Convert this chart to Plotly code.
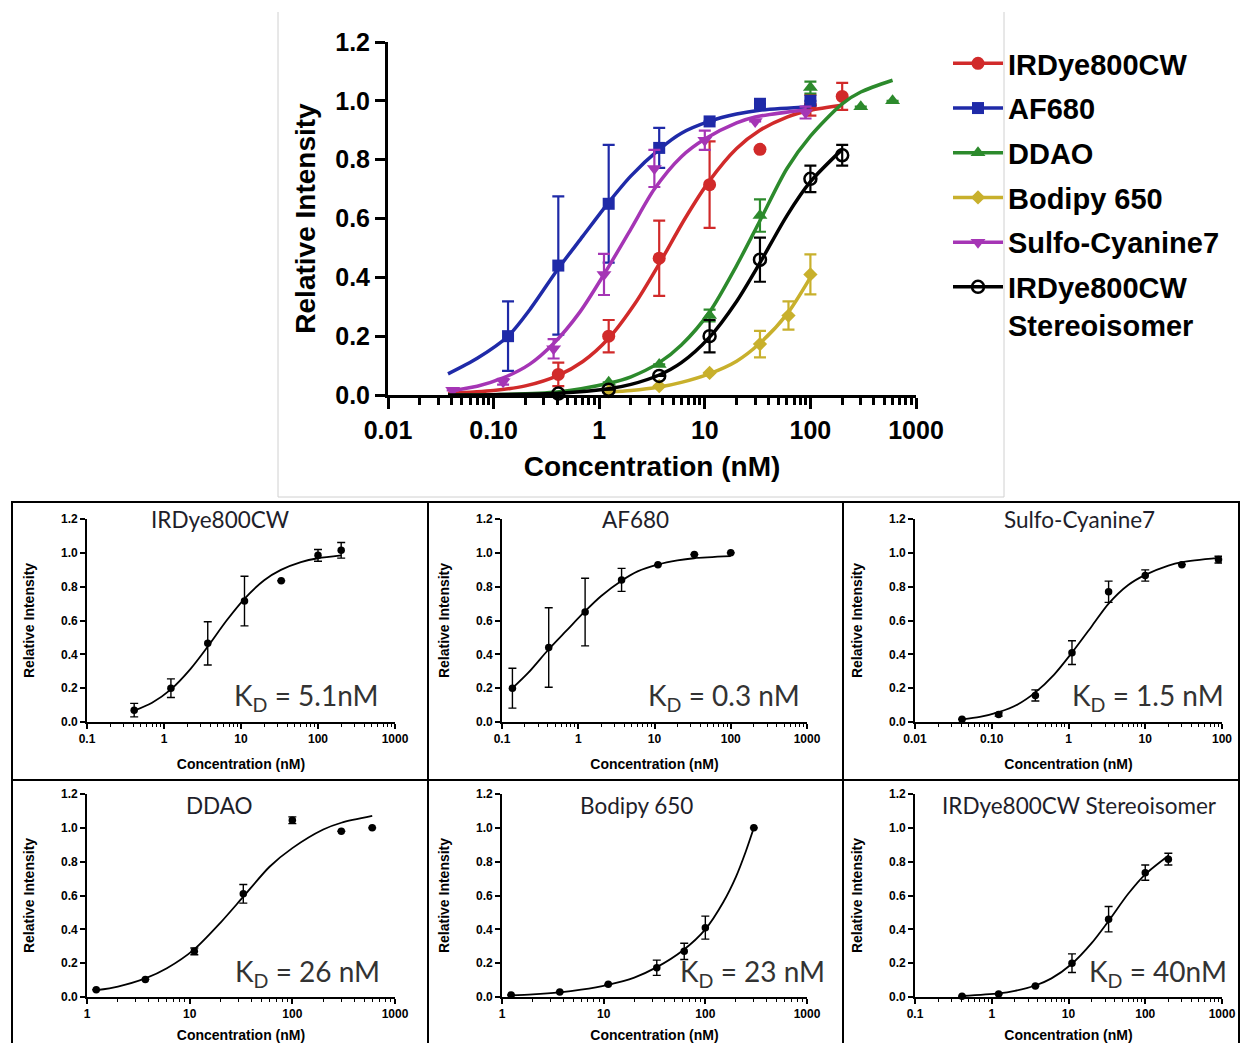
import plotly.graph_objects as go

# ---------------- data ----------------
dye_names = ["IRDye800CW", "AF680", "DDAO", "Bodipy 650", "Sulfo-Cyanine7", "IRDye800CW Stereoisomer"]
legend_labels = ["IRDye800CW", "AF680", "DDAO", "Bodipy 650", "Sulfo-Cyanine7", "IRDye800CW<br>Stereoisomer"]
kd_labels = ["K<sub>D</sub> = 5.1nM", "K<sub>D</sub> = 0.3 nM", "K<sub>D</sub> = 26 nM",
             "K<sub>D</sub> = 23 nM", "K<sub>D</sub> = 1.5 nM", "K<sub>D</sub> = 40nM"]

ird_conc = [0.41, 1.23, 3.7, 11.1, 33.3, 100, 200]
ird_val = [0.07, 0.20, 0.465, 0.715, 0.835, 0.985, 1.015]
ird_err = [0.04, 0.055, 0.128, 0.147, None, 0.035, 0.046]
ird_fit_x = [0.037, 0.1, 0.2, 0.41, 0.7, 1.23, 2.2, 3.7, 6.5, 11, 20, 33, 60, 100, 200]
ird_fit_y = [0.005, 0.015, 0.031, 0.067, 0.114, 0.193, 0.313, 0.446, 0.60, 0.727, 0.838, 0.899, 0.945, 0.968, 0.985]

af_conc = [0.137, 0.41, 1.23, 3.7, 11.1, 33.3, 100]
af_val = [0.20, 0.44, 0.65, 0.84, 0.93, 0.99, 1.0]
af_err = [0.118, 0.235, 0.20, 0.068, None, None, None]
af_fit_x = [0.037, 0.07, 0.137, 0.22, 0.41, 0.7, 1.23, 2, 3.7, 6, 11, 20, 33, 100]
af_fit_y = [0.072, 0.125, 0.20, 0.29, 0.43, 0.54, 0.655, 0.745, 0.835, 0.89, 0.93, 0.955, 0.968, 0.98]

ddao_conc = [1.23, 3.7, 11.1, 33.3, 100, 300, 600]
ddao_val = [0.043, 0.104, 0.27, 0.61, 1.045, 0.98, 1.0]
ddao_err = [None, None, 0.02, 0.055, 0.02, None, None]
ddao_fit_x = [0.037, 0.12, 0.4, 1.23, 2, 3.7, 6, 11, 20, 33, 60, 100, 200, 300, 600]
ddao_fit_y = [0.0, 0.002, 0.01, 0.04, 0.062, 0.11, 0.17, 0.28, 0.44, 0.59, 0.77, 0.88, 0.99, 1.03, 1.07]

bod_conc = [1.23, 3.7, 11.1, 33.3, 62, 100, 300]
bod_val = [0.012, 0.03, 0.075, 0.173, 0.27, 0.41, 1.0]
bod_err = [None, None, None, 0.045, 0.048, 0.068, None]
bod_fit_x = [1.23, 2, 3.7, 6, 11, 20, 33, 60, 100, 150, 200, 250, 300]
bod_fit_y = [0.01, 0.015, 0.027, 0.043, 0.072, 0.115, 0.175, 0.275, 0.40, 0.56, 0.71, 0.86, 1.0]
bod_main_max = 100  # the overview chart shows Bodipy up to 100 nM only

sul_conc = [0.041, 0.123, 0.37, 1.11, 3.33, 10, 30, 90]
sul_val = [0.016, 0.045, 0.157, 0.41, 0.77, 0.866, 0.93, 0.96]
sul_err = [None, 0.01, 0.033, 0.07, 0.063, 0.033, None, 0.02]
sul_fit_x = [0.041, 0.07, 0.123, 0.22, 0.37, 0.65, 1.11, 2, 3.33, 6, 10, 20, 30, 90]
sul_fit_y = [0.016, 0.03, 0.058, 0.105, 0.175, 0.28, 0.41, 0.565, 0.70, 0.81, 0.87, 0.925, 0.945, 0.97]

ste_conc = [0.41, 1.23, 3.7, 11.1, 33.3, 100, 200]
ste_val = [0.005, 0.018, 0.065, 0.20, 0.46, 0.735, 0.815]
ste_err = [None, None, None, 0.055, 0.075, 0.045, 0.035]
ste_fit_x = [0.037, 0.1, 0.41, 1.23, 2, 3.7, 6, 11, 20, 33, 60, 100, 200]
ste_fit_y = [0.0, 0.001, 0.006, 0.021, 0.036, 0.068, 0.11, 0.195, 0.318, 0.447, 0.61, 0.725, 0.835]

main_xticks = [0.01, 0.1, 1, 10, 100, 1000]
main_xtext = ["0.01", "0.10", "1", "10", "100", "1000"]
y_ticks = [0.0, 0.2, 0.4, 0.6, 0.8, 1.0, 1.2]
y_text = ["0.0", "0.2", "0.4", "0.6", "0.8", "1.0", "1.2"]

# ---------------- styles ----------------
colors = ["#d12a2a", "#1f2aa8", "#2c8a2c", "#c8b02c", "#a535b5", "#000000"]
symbols = ["circle", "square", "triangle-up", "diamond", "triangle-down", "circle-open"]
msizes = [13, 12, 13, 11, 13, 12]

series = [
    (ird_conc, ird_val, ird_err, ird_fit_x, ird_fit_y),
    (af_conc, af_val, af_err, af_fit_x, af_fit_y),
    (ddao_conc, ddao_val, ddao_err, ddao_fit_x, ddao_fit_y),
    (bod_conc, bod_val, bod_err, bod_fit_x, bod_fit_y),
    (sul_conc, sul_val, sul_err, sul_fit_x, sul_fit_y),
    (ste_conc, ste_val, ste_err, ste_fit_x, ste_fit_y),
]

# page body has an 8px margin, so the figure is 16px smaller and positions are shifted by 8px
OFF = 8
W, H = 1248 - 2 * OFF, 1051 - 2 * OFF
def fx(p):
    return (p - OFF) / W
def fy(p):
    return 1 - (p - OFF) / H

BOLD = "Liberation Sans, Arial, sans-serif"
THIN = "Lato, Liberation Sans, sans-serif"

fig = go.Figure()

# ---------------- main overview chart ----------------
for i, (cx, cy, ce, fxv, fyv) in enumerate(series):
    mx = max(cx) if i != 3 else bod_main_max
    sel = [k for k in range(len(cx)) if cx[k] <= mx]
    fsel = [k for k in range(len(fxv)) if fxv[k] <= mx * 1.01]
    fig.add_trace(go.Scatter(
        x=[fxv[k] for k in fsel], y=[fyv[k] for k in fsel], mode="lines",
        line=dict(color=colors[i], width=3.5, shape="spline", smoothing=0.8),
        showlegend=False, hoverinfo="skip", xaxis="x", yaxis="y"))
    fig.add_trace(go.Scatter(
        x=[cx[k] for k in sel], y=[cy[k] for k in sel], mode="markers",
        marker=dict(symbol=symbols[i], size=msizes[i], color=colors[i],
                    line=dict(color=colors[i], width=2.5 if i == 5 else 0)),
        error_y=dict(type="data", array=[ce[k] for k in sel], color=colors[i], thickness=2.2, width=6),
        cliponaxis=False, showlegend=False, xaxis="x", yaxis="y"))

for i in range(6):
    fig.add_trace(go.Scatter(
        x=[None], y=[None], mode="lines+markers", name=legend_labels[i],
        line=dict(color=colors[i], width=3.5),
        marker=dict(symbol=symbols[i], size=msizes[i], color=colors[i],
                    line=dict(color=colors[i], width=2.5 if i == 5 else 0)),
        legendgroup=dye_names[i], xaxis="x", yaxis="y"))

minor_main = [m * 10 ** d for d in range(-2, 3) for m in range(2, 10)]

fig.update_layout(
    xaxis=dict(type="log", range=[-2, 3], domain=[fx(388), fx(916)], anchor="y", automargin=False,
               showline=True, linewidth=3, linecolor="black", showgrid=False, zeroline=False,
               ticks="outside", ticklen=11, tickwidth=3, tickcolor="black",
               tickmode="array", tickvals=main_xticks, ticktext=main_xtext,
               tickfont=dict(family=BOLD, size=25, color="black", weight="bold"),
               minor=dict(ticks="outside", ticklen=7, tickwidth=2.5, tickcolor="black",
                          tickmode="array", tickvals=minor_main, showgrid=False),
               title=dict(text="Concentration (nM)", standoff=14,
                          font=dict(family=BOLD, size=28, color="black", weight="bold"))),
    yaxis=dict(range=[0, 1.2], domain=[fy(395), fy(42)], anchor="x", automargin=False,
               showline=True, linewidth=3, linecolor="black", showgrid=False, zeroline=False,
               ticks="outside", ticklen=10, tickwidth=3, tickcolor="black",
               tickmode="array", tickvals=y_ticks, ticktext=y_text,
               tickfont=dict(family=BOLD, size=25, color="black", weight="bold"),
               title=dict(text="Relative Intensity", standoff=12,
                          font=dict(family=BOLD, size=28, color="black", weight="bold"))),
)

# ---------------- small panels ----------------
panel_order = [0, 1, 4, 2, 3, 5]  # IRDye, AF680, Sulfo / DDAO, Bodipy, Stereo
col_x = [(87, 395), (502, 807), (915, 1222)]
row_y = [(519, 722), (794, 997)]
panel_ranges = {0: [-1, 3], 1: [-1, 3], 4: [-2, 2], 2: [0, 3], 3: [0, 3], 5: [-1, 3]}
panel_title_pos = [(220, 519), (635, 519), (1079, 519), (219, 805), (636, 805), (1079, 805)]
kd_pos = [(232, 697), (646, 697), (1070, 697), (233, 973), (678, 973), (1087, 973)]
tick_text_map = {0.01: "0.01", 0.1: "0.1", 1: "1", 10: "10", 100: "100", 1000: "1000"}

annotations = []
for p, di in enumerate(panel_order):
    r, c = divmod(p, 3)
    ax = p + 2
    xa, ya = f"x{ax}", f"y{ax}"
    cx, cy, ce, fxv, fyv = series[di]
    lo, hi = min(cx), max(cx)
    fsel = [k for k in range(len(fxv)) if lo * 0.97 <= fxv[k] <= hi * 1.01]
    fig.add_trace(go.Scatter(
        x=[fxv[k] for k in fsel], y=[fyv[k] for k in fsel], mode="lines",
        line=dict(color="black", width=1.8, shape="spline", smoothing=0.8),
        showlegend=False, hoverinfo="skip", xaxis=xa, yaxis=ya))
    fig.add_trace(go.Scatter(
        x=cx, y=cy, mode="markers", marker=dict(size=7.5, color="black"),
        error_y=dict(type="data", array=ce, color="black", thickness=1.4, width=4),
        cliponaxis=False, showlegend=False, xaxis=xa, yaxis=ya))
    rng = panel_ranges[di]
    tv = [10 ** e for e in range(rng[0], rng[1] + 1)]
    tt = [tick_text_map[round(v, 4) if v < 1 else int(v)] for v in tv]
    if di == 4:
        tt = ["0.01", "0.10", "1", "10", "100"]
    mv = [m * 10 ** d for d in range(rng[0], rng[1]) for m in range(2, 10)]
    x0, x1 = col_x[c]
    yt, yb = row_y[r]
    fig.update_layout({
        f"xaxis{ax}": dict(type="log", range=rng, domain=[fx(x0), fx(x1)], anchor=ya, automargin=False,
                           showline=True, linewidth=1.6, linecolor="black", showgrid=False, zeroline=False,
                           ticks="outside", ticklen=5, tickwidth=1.6, tickcolor="black",
                           tickmode="array", tickvals=tv, ticktext=tt,
                           tickfont=dict(family=BOLD, size=12, color="black", weight="bold"),
                           minor=dict(ticks="outside", ticklen=3, tickwidth=1.3, tickcolor="black",
                                      tickmode="array", tickvals=mv, showgrid=False),
                           title=dict(text="Concentration (nM)", standoff=14,
                                      font=dict(family=BOLD, size=14, color="black", weight="bold"))),
        f"yaxis{ax}": dict(range=[0, 1.2], domain=[fy(yb), fy(yt)], anchor=xa, automargin=False,
                           showline=True, linewidth=1.6, linecolor="black", showgrid=False, zeroline=False,
                           ticks="outside", ticklen=5, tickwidth=1.6, tickcolor="black",
                           tickmode="array", tickvals=y_ticks, ticktext=y_text,
                           tickfont=dict(family=BOLD, size=12, color="black", weight="bold"),
                           title=dict(text="Relative Intensity", standoff=23,
                                      font=dict(family=BOLD, size=14, color="black", weight="bold"))),
    })
    tx, ty = panel_title_pos[p]
    annotations.append(dict(x=fx(tx), y=fy(ty), xref="paper", yref="paper", text=dye_names[di],
                            showarrow=False, xanchor="center", yanchor="middle",
                            font=dict(family=THIN, size=22.5, color="#1e1e2a")))
    kx, ky = kd_pos[p]
    annotations.append(dict(x=fx(kx), y=fy(ky), xref="paper", yref="paper", text=kd_labels[di],
                            showarrow=False, xanchor="left", yanchor="middle",
                            font=dict(family=THIN, size=28, color="#333333")))

shapes = [
    dict(type="line", xref="paper", yref="paper", x0=fx(278), x1=fx(278), y0=fy(497), y1=fy(12),
         line=dict(color="#d0d0d0", width=1)),
    dict(type="line", xref="paper", yref="paper", x0=fx(1004), x1=fx(1004), y0=fy(497), y1=fy(12),
         line=dict(color="#d0d0d0", width=1)),
    dict(type="line", xref="paper", yref="paper", x0=fx(278), x1=fx(1004), y0=fy(497), y1=fy(497),
         line=dict(color="#d0d0d0", width=1)),
    dict(type="rect", xref="paper", yref="paper", x0=fx(12), x1=fx(1239), y0=fy(1050), y1=fy(502),
         line=dict(color="black", width=2)),
    dict(type="line", xref="paper", yref="paper", x0=fx(428), x1=fx(428), y0=fy(1050), y1=fy(502),
         line=dict(color="black", width=2)),
    dict(type="line", xref="paper", yref="paper", x0=fx(843), x1=fx(843), y0=fy(1050), y1=fy(502),
         line=dict(color="black", width=2)),
    dict(type="line", xref="paper", yref="paper", x0=fx(12), x1=fx(1239), y0=fy(780), y1=fy(780),
         line=dict(color="black", width=2)),
]

fig.update_layout(
    width=W, height=H, margin=dict(l=0, r=0, t=0, b=0, autoexpand=False),
    paper_bgcolor="white", plot_bgcolor="white",
    annotations=annotations, shapes=shapes,
    legend=dict(x=fx(948), y=fy(38), xanchor="left", yanchor="top", valign="top",
                font=dict(family="Liberation Sans, Arial, sans-serif", size=29, color="black", weight="bold"),
                bgcolor="rgba(0,0,0,0)", tracegroupgap=4, itemwidth=50),
)

fig.write_html("out.html")
